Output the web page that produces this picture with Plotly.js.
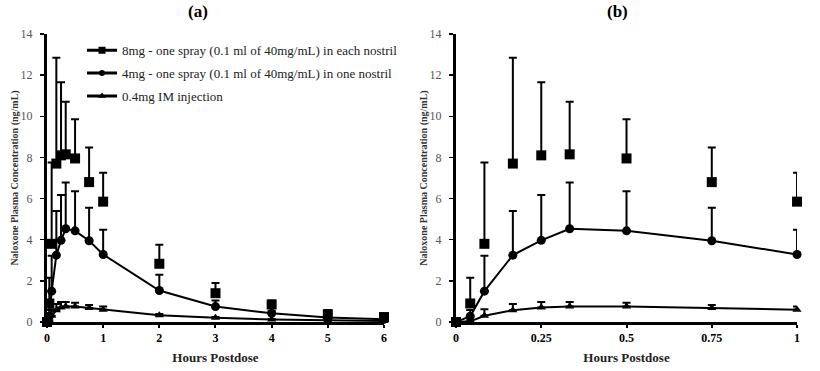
<!DOCTYPE html>
<html>
<head>
<meta charset="utf-8">
<script src="https://cdn.plot.ly/plotly-3.0.1.min.js"></script>
<style>html,body{margin:0;padding:0;background:#fff;}#chart{width:820px;height:371px;}</style>
</head>
<body>
<div id="chart"></div>
<script>
// Time points (hours postdose)
const hours = [0, 0.0417, 0.0833, 0.1667, 0.25, 0.3333, 0.5, 0.75, 1, 2, 3, 4, 5, 6];

// 8mg - one spray in each nostril
const mean8mg = [0, 0.9, 3.8, 7.7, 8.1, 8.15, 7.95, 6.8, 5.85, 2.83, 1.4, 0.85, 0.38, 0.24];
const sd8mg   = [0, 1.25, 3.95, 5.15, 3.55, 2.55, 1.9, 1.68, 1.4, 0.92, 0.5, 0.2, 0.2, 0.17];

// 4mg - one spray in one nostril
const mean4mg = [0, 0.28, 1.5, 3.25, 3.97, 4.53, 4.43, 3.95, 3.28, 1.53, 0.75, 0.42, 0.22, 0.13];
const sd4mg   = [0, 0.3, 1.72, 2.15, 2.2, 2.25, 1.92, 1.6, 1.2, 0.77, 0.3, 0.12, 0.06, 0.04];

// 0.4mg IM injection
const meanIM = [0, 0.03, 0.3, 0.57, 0.7, 0.75, 0.75, 0.68, 0.6, 0.33, 0.2, 0.12, 0.08, 0.05];
const sdIM   = [0, 0.05, 0.32, 0.3, 0.27, 0.22, 0.18, 0.15, 0.15, 0.06, 0.04, 0.03, 0.02, 0.02];

const names = [
  '8mg - one spray (0.1 ml of 40mg/mL) in each nostril',
  '4mg - one spray (0.1 ml of 40mg/mL) in one nostril',
  '0.4mg IM injection'
];

const xTicksA = [0, 1, 2, 3, 4, 5, 6];
const xTicksB = [0, 0.25, 0.5, 0.75, 1];
const xTickTextB = ['0', '0.25', '0.5', '0.75', '1'];
const yTicks = [0, 2, 4, 6, 8, 10, 12, 14];

const serif = 'Liberation Serif';

function sel(arr, maxT) { return arr.filter((v, i) => hours[i] <= maxT); }

function series(mean, sd, symbol, size, showLine, xa, ya, maxT) {
  return {
    x: sel(hours, maxT), y: sel(mean, maxT),
    xaxis: xa, yaxis: ya,
    type: 'scatter',
    mode: showLine ? 'lines+markers' : 'markers',
    line: {color: '#000', width: 2},
    marker: {symbol: symbol, size: size, color: '#000'},
    error_y: {type: 'data', symmetric: false, array: sel(sd, maxT), arrayminus: sel(sd, maxT).map(() => 0),
              color: '#000', thickness: 2, width: 4},
    cliponaxis: false,
    showlegend: false,
    hoverinfo: 'x+y'
  };
}

const traces = [];
// legend entries
[['square', 9], ['circle', 8], ['triangle-up', 9]].forEach((s, i) => {
  traces.push({
    x: [null], y: [null], type: 'scatter', mode: 'lines+markers', name: names[i],
    legendgroup: 'g' + i,
    line: {color: '#000', width: 3}, marker: {symbol: s[0], size: s[1] - 2, color: '#000'},
    showlegend: true, xaxis: 'x', yaxis: 'y'
  });
});
// panel (a)
traces.push(series(meanIM, sdIM, 'triangle-up', 8, true, 'x', 'y', 6));
traces.push(series(mean4mg, sd4mg, 'circle', 9, true, 'x', 'y', 6));
traces.push(series(mean8mg, sd8mg, 'square', 10, false, 'x', 'y', 6));
// panel (b)
traces.push(series(meanIM, sdIM, 'triangle-up', 8, true, 'x2', 'y2', 1));
traces.push(series(mean4mg, sd4mg, 'circle', 9, true, 'x2', 'y2', 1));
traces.push(series(mean8mg, sd8mg, 'square', 10, false, 'x2', 'y2', 1));

const yTitle = {text: 'Naloxone Plasma Concentration (ng/mL)', font: {family: serif, size: 10, color: '#333', weight: 'bold'}, standoff: 0};
const xTitle = {text: 'Hours Postdose', font: {family: serif, size: 13, color: '#222', weight: 'bold'}, standoff: 9};

function yaxis(anchor) {
  return {
    anchor: anchor, domain: [0.1321, 0.9084], range: [0, 14],
    tickvals: yTicks, ticks: 'outside', ticklen: 4, tickwidth: 1.5, tickcolor: '#000',
    showline: true, linewidth: 3, linecolor: '#000', showgrid: false, zeroline: false,
    tickfont: {family: serif, size: 12, color: '#555'}, ticklabelstandoff: 5,
    title: yTitle, fixedrange: true
  };
}

const layout = {
  width: 820, height: 371,
  margin: {l: 0, r: 0, t: 0, b: 0},
  paper_bgcolor: '#fff', plot_bgcolor: '#fff',
  font: {family: serif},
  showlegend: true,
  legend: {x: 0.1, y: 0.905, xanchor: 'left', yanchor: 'top', bgcolor: 'rgba(0,0,0,0)',
           font: {family: serif, size: 13, color: '#222'}, itemwidth: 30,
           traceorder: 'grouped', tracegroupgap: 3},
  xaxis: {
    anchor: 'y', domain: [0.0573, 0.4683], range: [0, 6],
    tickvals: xTicksA, ticks: 'outside', ticklen: 3, tickwidth: 2, tickcolor: '#000',
    showline: true, linewidth: 3, linecolor: '#000', showgrid: false, zeroline: false,
    tickfont: {family: serif, size: 12, color: '#000', weight: 'bold'},
    title: xTitle, fixedrange: true
  },
  yaxis: yaxis('x'),
  xaxis2: {
    anchor: 'y2', domain: [0.5561, 0.9720], range: [0, 1],
    tickvals: xTicksB, ticktext: xTickTextB, ticks: 'outside', ticklen: 3, tickwidth: 2, tickcolor: '#000',
    showline: true, linewidth: 3, linecolor: '#000', showgrid: false, zeroline: false,
    tickfont: {family: serif, size: 12, color: '#000', weight: 'bold'},
    title: xTitle, fixedrange: true
  },
  yaxis2: yaxis('x2'),
  annotations: [
    {text: '(a)', xref: 'paper', yref: 'paper', x: 0.241, y: 1.0, xanchor: 'center', yanchor: 'top', showarrow: false,
     font: {family: serif, size: 17, color: '#000', weight: 'bold'}},
    {text: '(b)', xref: 'paper', yref: 'paper', x: 0.753, y: 1.0, xanchor: 'center', yanchor: 'top', showarrow: false,
     font: {family: serif, size: 17, color: '#000', weight: 'bold'}}
  ]
};

Plotly.newPlot('chart', traces, layout, {staticPlot: true, displayModeBar: false});
</script>
</body>
</html>
